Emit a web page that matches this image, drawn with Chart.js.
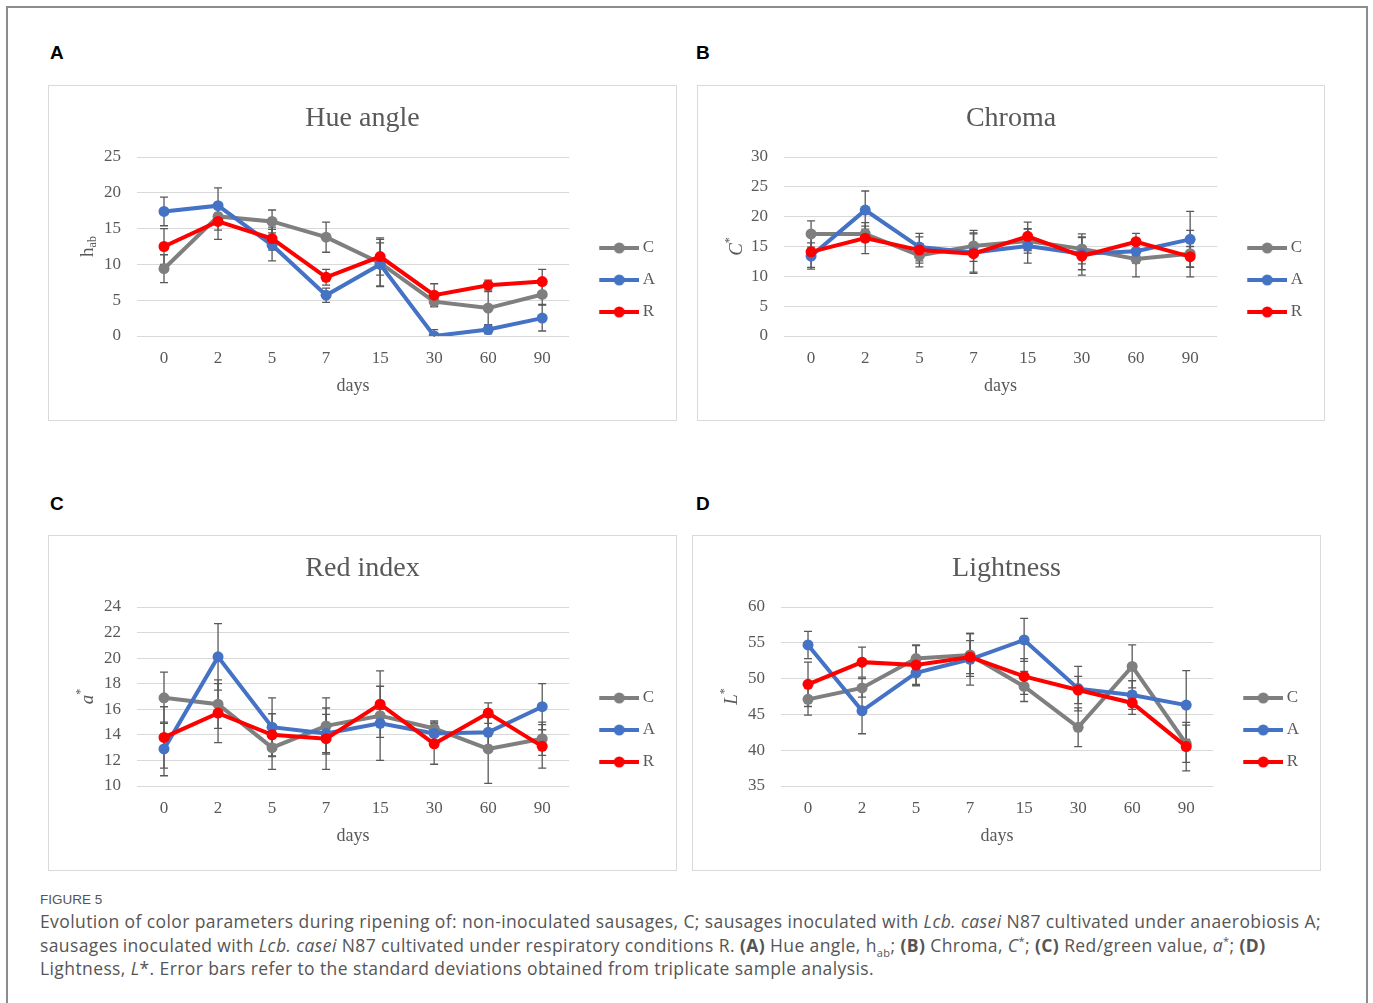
<!DOCTYPE html>
<html>
<head>
<meta charset="utf-8">
<script src="https://cdn.jsdelivr.net/npm/chart.js@4.4.0/dist/chart.umd.min.js"></script>
<style>
  body { margin: 0; background: #fff; width: 1373px; height: 1003px; position: relative; overflow: hidden; }
  .frame { position: absolute; left: 6px; top: 6px; width: 1358px; height: 1010px; border: 2px solid #8c8c8c; }
  .letter { position: absolute; font: bold 19px "Liberation Sans", Arial, sans-serif; line-height: 19px; color: #000; }
  .box { position: absolute; border: 1px solid #d9d9d9; box-sizing: border-box; }
  canvas { position: absolute; }
  .figlabel { position: absolute; left: 40px; top: 892px; font: 13.5px "Liberation Sans", Arial, sans-serif; color: #555; }
  .caption { position: absolute; left: 40px; top: 910px; font: 17.5px "Open Sans", sans-serif; letter-spacing: 0.4px; line-height: 23.5px; color: #555; white-space: nowrap; }
  .caption sub, .caption sup { font-size: 11px; line-height: 0; }
</style>
</head>
<body>
<div class="frame"></div>

<div class="letter" style="left:50px;top:43px">A</div>
<div class="letter" style="left:696px;top:43px">B</div>
<div class="letter" style="left:50px;top:494px">C</div>
<div class="letter" style="left:696px;top:494px">D</div>

<div class="box" style="left:48px;top:85px;width:629px;height:336px"></div>
<canvas id="hue" width="629" height="336" style="left:48px;top:85px"></canvas>
<div class="box" style="left:697px;top:85px;width:628px;height:336px"></div>
<canvas id="chroma" width="628" height="336" style="left:697px;top:85px"></canvas>
<div class="box" style="left:48px;top:535px;width:629px;height:336px"></div>
<canvas id="red" width="629" height="336" style="left:48px;top:535px"></canvas>
<div class="box" style="left:692px;top:535px;width:629px;height:336px"></div>
<canvas id="light" width="629" height="336" style="left:692px;top:535px"></canvas>

<div class="figlabel">FIGURE 5</div>
<div class="caption">Evolution of color parameters during ripening of: non-inoculated sausages, C; sausages inoculated with <i>Lcb. casei</i> N87 cultivated under anaerobiosis A;<br>sausages inoculated with <i>Lcb. casei</i> N87 cultivated under respiratory conditions R. <b>(A)</b> Hue angle, h<sub>ab</sub>; <b>(B)</b> Chroma, <i>C</i><sup>*</sup>; <b>(C)</b> Red/green value, <i>a</i><sup>*</sup>; <b>(D)</b><br>Lightness, <i>L</i>*. Error bars refer to the standard deviations obtained from triplicate sample analysis.</div>

<script>
// ripening time (days)
const days = ["0", "2", "5", "7", "15", "30", "60", "90"];
const seriesNames = ["C", "A", "R"];
const seriesColors = ["#7f7f7f", "#4472c4", "#ff0000"];

// hue angle h_ab
const hueC = [9.4, 16.7, 16.0, 13.8, 10.2, 4.8, 3.9, 5.8];
const hueA = [17.4, 18.2, 12.7, 5.7, 10.0, 0.0, 0.9, 2.5];
const hueR = [12.5, 16.0, 13.6, 8.2, 11.1, 5.7, 7.1, 7.6];
const hueErrC = [1.95, 1.9, 1.6, 2.1, 3.3, 0.7, 2.3, 1.4];
const hueErrA = [2.0, 2.5, 2.2, 1.0, 3.0, 0.9, 0.6, 1.8];
const hueErrR = [2.5, 2.5, 1.6, 1.1, 2.6, 1.6, 0.7, 1.7];

// chroma C*
const chromaC = [17.1, 17.1, 13.5, 15.1, 15.9, 14.6, 12.9, 13.8];
const chromaA = [13.4, 21.1, 14.9, 14.0, 15.1, 13.8, 14.2, 16.2];
const chromaR = [14.1, 16.4, 14.4, 13.8, 16.7, 13.4, 15.8, 13.3];
const chromaErrC = [2.2, 1.3, 1.9, 2.6, 2.0, 2.5, 3.0, 3.9];
const chromaErrA = [2.2, 3.2, 2.3, 3.3, 2.9, 2.7, 2.0, 4.7];
const chromaErrR = [2.6, 2.6, 2.2, 3.3, 2.4, 3.2, 1.4, 1.7];

// red index a*
const redC = [16.9, 16.4, 13.0, 14.7, 15.5, 14.5, 12.9, 13.7];
const redA = [12.9, 20.1, 14.6, 14.1, 14.9, 14.1, 14.2, 16.2];
const redR = [13.8, 15.7, 14.0, 13.7, 16.4, 13.3, 15.7, 13.1];
const redErrC = [2.0, 1.9, 1.7, 2.2, 3.5, 0.6, 2.7, 1.3];
const redErrA = [2.1, 2.6, 2.3, 1.5, 1.1, 0.9, 1.2, 1.8];
const redErrR = [2.4, 2.3, 1.65, 2.4, 1.4, 1.6, 0.8, 1.7];

// lightness L*
const lightC = [47.1, 48.7, 52.8, 53.3, 48.9, 43.2, 51.7, 40.9];
const lightA = [54.7, 45.5, 50.8, 52.7, 55.4, 48.6, 47.7, 46.3];
const lightR = [49.2, 52.3, 51.9, 53.0, 50.3, 48.4, 46.6, 40.5];
const lightErrC = [2.2, 1.3, 1.9, 3.0, 2.1, 2.7, 3.0, 2.6];
const lightErrA = [1.9, 3.2, 1.8, 3.6, 3.0, 3.1, 2.0, 4.8];
const lightErrR = [3.1, 2.1, 2.7, 2.3, 2.5, 1.9, 1.6, 3.4];

const TEXT = "#595959";
const SERIF = "'Liberation Serif', 'Times New Roman', serif";

// legend sample: short line with a marker in the middle
function legendIcon(color) {
    const c = document.createElement("canvas");
    c.width = 60;
    c.height = 12;
    const g = c.getContext("2d");
    g.strokeStyle = color;
    g.lineWidth = 4;
    g.beginPath();
    g.moveTo(20, 6);
    g.lineTo(60, 6);
    g.stroke();
    g.fillStyle = color;
    g.beginPath();
    g.arc(40, 6, 5.5, 0, Math.PI * 2);
    g.fill();
    return c;
}
const legendIcons = seriesColors.map(legendIcon);

function makePanel(p) {
    const ctx = document.getElementById(p.id).getContext("2d");

    // whiskers for the standard deviations, drawn under the lines
    const errorBars = {
        id: "errorBars",
        beforeDatasetsDraw(chart) {
            const g = chart.ctx;
            const y = chart.scales.y;
            const area = chart.chartArea;
            g.save();
            g.beginPath();
            g.rect(area.left, area.top - 1, area.right - area.left, area.bottom - area.top + 2);
            g.clip();
            g.strokeStyle = "#595959";
            g.lineWidth = 1.3;
            p.series.forEach((vals, i) => {
                const meta = chart.getDatasetMeta(i);
                vals.forEach((v, j) => {
                    const x = meta.data[j].x;
                    const top = y.getPixelForValue(v + p.errors[i][j]);
                    const bot = y.getPixelForValue(v - p.errors[i][j]);
                    g.beginPath();
                    g.moveTo(x, top);
                    g.lineTo(x, bot);
                    g.moveTo(x - 4, top);
                    g.lineTo(x + 4, top);
                    g.moveTo(x - 4, bot);
                    g.lineTo(x + 4, bot);
                    g.stroke();
                });
            });
            g.restore();
        },
    };

    // rotated y-axis title with sub/superscripts
    const yTitle = {
        id: "yTitle",
        afterDraw(chart) {
            const g = chart.ctx;
            const area = chart.chartArea;
            const fontFor = (t) => (t.italic ? "italic " : "") + (t.sub || t.sup ? "12px " : "19px ") + SERIF;
            g.save();
            g.translate(40, (area.top + area.bottom) / 2);
            g.rotate(-Math.PI / 2);
            g.fillStyle = TEXT;
            g.textBaseline = "middle";
            const widths = p.yTitle.map((t) => {
                g.font = fontFor(t);
                return g.measureText(t.text).width;
            });
            let x = -widths.reduce((a, b) => a + b, 0) / 2;
            p.yTitle.forEach((t, i) => {
                g.font = fontFor(t);
                g.fillText(t.text, x, t.sub ? 5 : t.sup ? -7 : 0);
                x += widths[i];
            });
            g.restore();
        },
    };

    return new Chart(ctx, {
        type: "line",
        data: {
            labels: days,
            datasets: p.series.map((vals, i) => ({
                label: seriesNames[i],
                data: vals,
                borderColor: seriesColors[i],
                backgroundColor: seriesColors[i],
                borderWidth: 4,
                pointRadius: 5.5,
                pointBorderWidth: 0,
                pointBackgroundColor: seriesColors[i],
                order: 3 - i,
            })),
        },
        options: {
            responsive: false,
            animation: false,
            elements: {
                line: {
                    tension: 0,
                },
            },
            layout: {
                padding: { left: 12, right: 12, top: 0, bottom: 24 },
            },
            scales: {
                x: {
                    offset: true,
                    grid: { display: false },
                    border: { display: false },
                    ticks: {
                        color: TEXT,
                        padding: 4,
                        font: { family: SERIF, size: 17 },
                    },
                    title: {
                        display: true,
                        text: "days",
                        color: TEXT,
                        padding: { top: 4, bottom: 0 },
                        font: { family: SERIF, size: 18 },
                    },
                    afterFit: (s) => {
                        s.height = 61;
                    },
                },
                y: {
                    min: p.min,
                    max: p.max,
                    grid: { color: "#d9d9d9", lineWidth: 1, drawTicks: false },
                    border: { display: false },
                    ticks: {
                        stepSize: p.step,
                        color: TEXT,
                        padding: 16,
                        font: { family: SERIF, size: 17 },
                    },
                    afterFit: (s) => {
                        s.width = p.left - 12;
                    },
                },
            },
            plugins: {
                title: {
                    display: true,
                    text: p.title,
                    color: TEXT,
                    font: { family: SERIF, size: 28, weight: "normal" },
                    padding: { top: 17, bottom: 21.4 },
                },
                legend: {
                    position: "right",
                    title: {
                        display: true,
                        text: " ",
                        font: { size: 10 },
                        padding: { top: 33, bottom: 33 },
                    },
                    labels: {
                        usePointStyle: true,
                        pointStyleWidth: 50,
                        padding: 15,
                        color: TEXT,
                        font: { family: SERIF, size: 17 },
                        sort: (a, b) => a.datasetIndex - b.datasetIndex,
                        generateLabels: (chart) =>
                            Chart.defaults.plugins.legend.labels.generateLabels(chart).map((item) => ({
                                ...item,
                                pointStyle: legendIcons[item.datasetIndex],
                            })),
                    },
                },
                tooltip: { enabled: false },
            },
        },
        plugins: [errorBars, yTitle],
    });
}

const hueChart = makePanel({
    id: "hue", title: "Hue angle", min: 0, max: 25, step: 5, left: 89,
    yTitle: [{ text: "h" }, { text: "ab", sub: true }],
    series: [hueC, hueA, hueR], errors: [hueErrC, hueErrA, hueErrR],
});
const chromaChart = makePanel({
    id: "chroma", title: "Chroma", min: 0, max: 30, step: 5, left: 87,
    yTitle: [{ text: "C", italic: true }, { text: "*", sup: true }],
    series: [chromaC, chromaA, chromaR], errors: [chromaErrC, chromaErrA, chromaErrR],
});
const redChart = makePanel({
    id: "red", title: "Red index", min: 10, max: 24, step: 2, left: 89,
    yTitle: [{ text: "a", italic: true }, { text: "*", sup: true }],
    series: [redC, redA, redR], errors: [redErrC, redErrA, redErrR],
});
const lightChart = makePanel({
    id: "light", title: "Lightness", min: 35, max: 60, step: 5, left: 89,
    yTitle: [{ text: "L", italic: true }, { text: "*", sup: true }],
    series: [lightC, lightA, lightR], errors: [lightErrC, lightErrA, lightErrR],
});
</script>
</body>
</html>
